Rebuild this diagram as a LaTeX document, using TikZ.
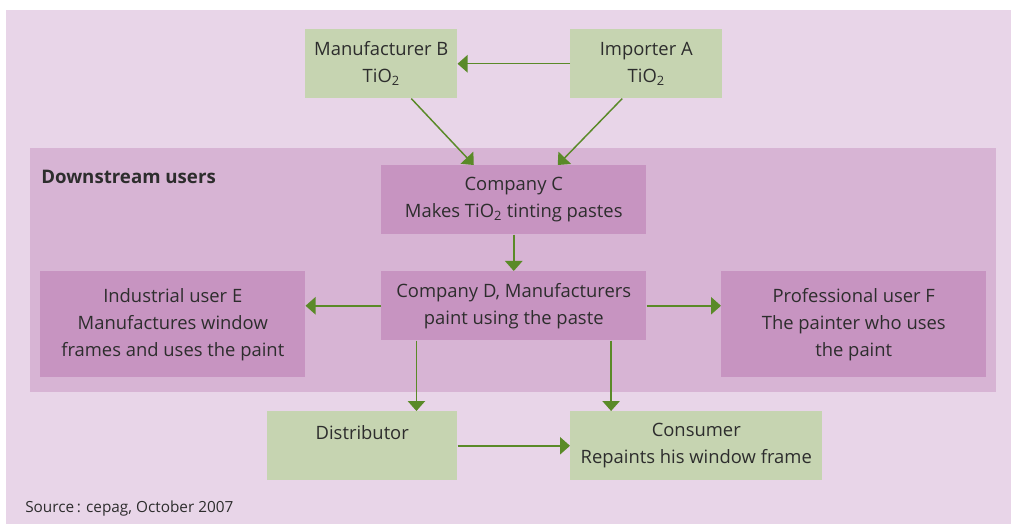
\documentclass[tikz,border=0pt]{standalone}
\usepackage{fontspec}
\setmainfont{Open Sans}
\usetikzlibrary{arrows.meta}
\definecolor{pagebg}{HTML}{E8D5E8}
\definecolor{userbg}{HTML}{D7B4D4}
\definecolor{userbox}{HTML}{C794C1}
\definecolor{supbox}{HTML}{C6D4B1}
\definecolor{flowgreen}{HTML}{5A8A28}
\definecolor{inktext}{HTML}{2D2D2D}
\tikzset{
  greenbox/.style={fill=supbox, anchor=north west, inner sep=0pt, align=center,
    text=inktext, font=\fontsize{13.8}{20.25}\selectfont},
  purplebox/.style={fill=userbox, anchor=north west, inner sep=0pt, align=center,
    text=inktext, font=\fontsize{13.8}{20.25}\selectfont},
  flow/.style={draw=flowgreen, line width=1.1pt,
    -{Triangle[width=13pt,length=7.5pt]}}
}
\begin{document}
\begin{tikzpicture}[x=0.75pt,y=-0.75pt]
    \useasboundingbox (0,0) rectangle (1011,524);
    \fill[pagebg] (6,10) rectangle (1011,524);
    \fill[userbg] (30,148) rectangle (996,392);
    \node[anchor=west, inner sep=0pt, text=inktext, font=\fontsize{14}{16}\bfseries] (dsl) at (41,177) {Downstream users};
    % suppliers
    \node[greenbox, minimum width=114pt, minimum height=51.75pt] (mfrB) at (305,29) {Manufacturer B\\TiO\textsubscript{2}};
    \node[greenbox, minimum width=114pt, minimum height=51.75pt] (impA) at (570,29) {Importer A\\TiO\textsubscript{2}};
    % downstream users
    \node[purplebox, minimum width=198.75pt, minimum height=51.75pt] (compC) at (381,165) {Company C\\Makes TiO\textsubscript{2} tinting pastes};
    \node[purplebox, minimum width=198.75pt, minimum height=51.75pt] (compD) at (381,271) {Company D, Manufacturers\\paint using the paste};
    \node[purplebox, minimum width=198.75pt, minimum height=79.5pt] (indE) at (40,271) {Industrial user E\\Manufactures window\\frames and uses the paint};
    \node[purplebox, minimum width=198.75pt, minimum height=79.5pt] (proF) at (721,271) {Professional user F\\The painter who uses\\the paint};
    % end of chain
    \node[greenbox, minimum width=142.5pt, minimum height=51.75pt] (distr) at (267,411) {Distributor\\\mbox{}};
    \node[greenbox, minimum width=189pt, minimum height=51.75pt] (cons) at (570,411) {Consumer\\Repaints his window frame};
    \node[anchor=west, inner sep=0pt, text=inktext, font=\fontsize{11.5}{14}\selectfont] (src) at (25,509) {Source\,: cepag, October 2007};
    % arrows
    \draw[flow] (impA.west) -- (mfrB.east);
    \draw[flow] ([xshift=22.5pt]mfrB.south) -- ([xshift=-30pt]compC.north);
    \draw[flow] ([xshift=-18pt]impA.south) -- ([xshift=33pt]compC.north);
    \draw[flow] (compC.south) -- (compD.north);
    \draw[flow] (compD.west) -- (compD.west -| indE.east);
    \draw[flow] (compD.east) -- (compD.east -| proF.west);
    \draw[flow] ([xshift=-73pt]compD.south) -- ([xshift=-73pt]compD.south |- distr.north);
    \draw[flow] ([xshift=73pt]compD.south) -- ([xshift=73pt]compD.south |- cons.north);
    \draw[flow] (distr.east) -- (cons.west);
\end{tikzpicture}
\end{document}
